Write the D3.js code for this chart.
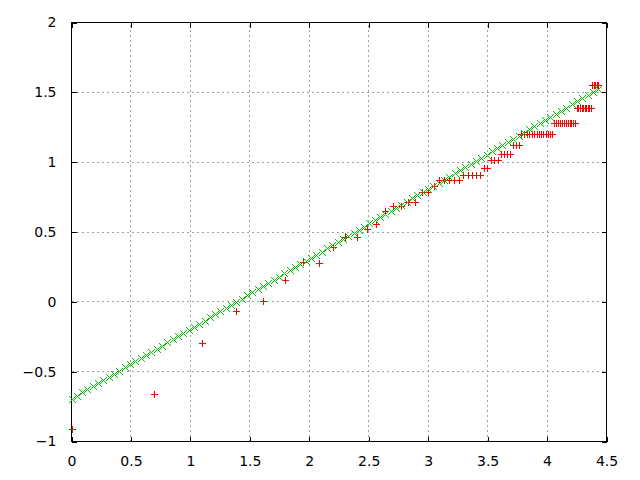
<!DOCTYPE html>
<html><head><meta charset="utf-8">
<script src="https://cdn.jsdelivr.net/npm/d3@7"></script>
<style>body{margin:0;background:#fff}svg{display:block}</style>
</head><body>
<script>
// Data
const xTicks = [0, 0.5, 1, 1.5, 2, 2.5, 3, 3.5, 4, 4.5];
const yTicks = [-1, -0.5, 0, 0.5, 1, 1.5, 2];
const dataX = [0,0.693,1.099,1.386,1.609,1.792,1.946,2.079,2.197,2.303,2.398,2.485,2.565,2.639,2.708,2.773,2.833,2.890,2.944,2.996,3.045,3.091,3.135,3.178,3.219,3.258,3.296,3.332,3.367,3.401,3.434,3.466,3.497,3.526,3.555,3.584,3.611,3.638,3.664,3.689,3.714,3.738,3.761,3.784,3.807,3.829,3.850,3.871,3.892,3.912,3.932,3.951,3.970,3.989,4.007,4.025,4.043,4.060,4.078,4.094,4.111,4.127,4.143,4.159,4.174,4.190,4.205,4.220,4.234,4.248,4.263,4.277,4.290,4.304,4.317,4.331,4.344,4.357,4.369,4.382,4.394,4.407,4.419,4.431];
const dataY = [-0.914,-0.66,-0.298,-0.069,0.005,0.153,0.282,0.28,0.391,0.463,0.463,0.523,0.559,0.649,0.683,0.683,0.716,0.716,0.788,0.788,0.828,
 0.874,0.874,0.874,0.874,0.874,
 0.911,0.911,0.911,0.911,0.911,
 0.96,0.96,
 1.012,1.012,1.012,
 1.06,1.06,1.06,1.06,
 1.124,1.124,1.124,
 1.2,1.2,1.2,1.2,1.2,1.2,1.2,1.2,1.2,1.2,1.2,1.2,1.2,1.2,
 1.279,1.279,1.279,1.279,1.279,1.279,1.279,1.279,1.279,1.279,1.279,1.279,
 1.386,1.386,1.386,1.386,1.386,1.386,1.386,1.386,1.386,1.386,
 1.549,1.549,1.549,1.549,1.549];
const fitX = [0,0.045,0.090,0.134,0.179,0.224,0.269,0.313,0.358,0.403,0.448,0.492,0.537,0.582,0.627,0.671,0.716,0.761,0.806,0.850,0.895,0.940,0.985,1.029,1.074,1.119,1.164,1.208,1.253,1.298,1.343,1.387,1.432,1.477,1.522,1.566,1.611,1.656,1.701,1.745,1.790,1.835,1.880,1.924,1.969,2.014,2.059,2.104,2.148,2.193,2.238,2.283,2.327,2.372,2.417,2.462,2.506,2.551,2.596,2.641,2.685,2.730,2.775,2.820,2.864,2.909,2.954,2.999,3.043,3.088,3.133,3.178,3.222,3.267,3.312,3.357,3.401,3.446,3.491,3.536,3.580,3.625,3.670,3.715,3.760,3.804,3.849,3.894,3.939,3.983,4.028,4.073,4.118,4.162,4.207,4.252,4.297,4.341,4.386,4.431];
const fitY = [-0.694,-0.672,-0.649,-0.627,-0.604,-0.582,-0.560,-0.537,-0.515,-0.492,-0.470,-0.447,-0.425,-0.403,-0.380,-0.358,-0.335,-0.313,-0.291,-0.268,-0.246,-0.223,-0.201,-0.178,-0.156,-0.134,-0.111,-0.089,-0.066,-0.044,-0.022,0.001,0.023,0.046,0.068,0.090,0.113,0.135,0.158,0.180,0.203,0.225,0.247,0.270,0.292,0.315,0.337,0.359,0.382,0.404,0.427,0.449,0.472,0.494,0.516,0.539,0.561,0.584,0.606,0.628,0.651,0.673,0.696,0.718,0.741,0.763,0.785,0.808,0.830,0.853,0.875,0.897,0.920,0.942,0.965,0.987,1.010,1.032,1.054,1.077,1.099,1.122,1.144,1.166,1.189,1.211,1.234,1.256,1.278,1.301,1.323,1.346,1.368,1.391,1.413,1.435,1.458,1.480,1.503,1.525];

const W = 640, H = 480;
const L = 71.5, R = 606.5, T = 22.5, B = 441.5;
const x = d3.scaleLinear().domain([0, 4.5]).range([L, R]);
const y = d3.scaleLinear().domain([-1, 2]).range([B, T]);

const svg = d3.select("body").append("svg").attr("width", W).attr("height", H)
  .style("font-family", "'DejaVu Sans', sans-serif");

// grid
const g = svg.append("g").attr("stroke", "#a0a0a0").attr("stroke-dasharray", "2,3")
  .attr("shape-rendering", "crispEdges");
xTicks.filter(v => v > 0 && v < 4.5).forEach(v => {
  g.append("line").attr("x1", x(v)).attr("x2", x(v)).attr("y1", B).attr("y2", T);
});
yTicks.filter(v => v > -1 && v < 2).forEach(v => {
  g.append("line").attr("x1", L).attr("x2", R).attr("y1", y(v)).attr("y2", y(v));
});

// axes with inward ticks (mirrored)
function styleAxis(sel) {
  sel.select(".domain").remove();
  sel.selectAll("line").attr("stroke", "#000").attr("shape-rendering", "crispEdges");
  sel.selectAll("text").attr("fill", "#000").style("font-size", "14px").style("font-family", "'DejaVu Sans', sans-serif");
}
const ax = svg.append("g").attr("transform", `translate(0,${B})`)
  .call(d3.axisBottom(x).tickValues(xTicks).tickFormat(d3.format("")).tickSizeInner(-5).tickPadding(15));
styleAxis(ax);
const ay = svg.append("g").attr("transform", `translate(${L},0)`)
  .call(d3.axisLeft(y).tickValues(yTicks).tickFormat(d3.format("")).tickSizeInner(-5).tickPadding(15));
styleAxis(ay);
const at = svg.append("g").attr("transform", `translate(0,${T})`)
  .call(d3.axisTop(x).tickValues(xTicks).tickFormat("").tickSizeInner(-5));
styleAxis(at);
const ar = svg.append("g").attr("transform", `translate(${R},0)`)
  .call(d3.axisRight(y).tickValues(yTicks).tickFormat("").tickSizeInner(-5));
styleAxis(ar);

// border
svg.append("rect").attr("x", L).attr("y", T).attr("width", R - L).attr("height", B - T)
  .attr("fill", "none").attr("stroke", "#000").attr("shape-rendering", "crispEdges");

// red + data points
svg.append("g").selectAll("path").data(d3.range(dataX.length)).join("path")
  .attr("d", i => {
    const cx = Math.round(x(dataX[i])) + 0.5, cy = Math.round(y(dataY[i])) + 0.5, s = 3.5;
    return `M${cx - s},${cy}H${cx + s}M${cx},${cy - s}V${cy + s}`;
  })
  .attr("stroke", "#ff0000").attr("fill", "none").attr("shape-rendering", "crispEdges");

// green x fitted samples
svg.append("g").selectAll("path").data(d3.range(fitX.length)).join("path")
  .attr("d", i => {
    const cx = Math.round(x(fitX[i])) + 0.5, cy = Math.round(y(fitY[i])) + 0.5, s = 3.5;
    return `M${cx - s},${cy - s}L${cx + s},${cy + s}M${cx - s},${cy + s}L${cx + s},${cy - s}`;
  })
  .attr("stroke", "#00c000").attr("fill", "none").attr("shape-rendering", "crispEdges");
</script>
</body></html>
